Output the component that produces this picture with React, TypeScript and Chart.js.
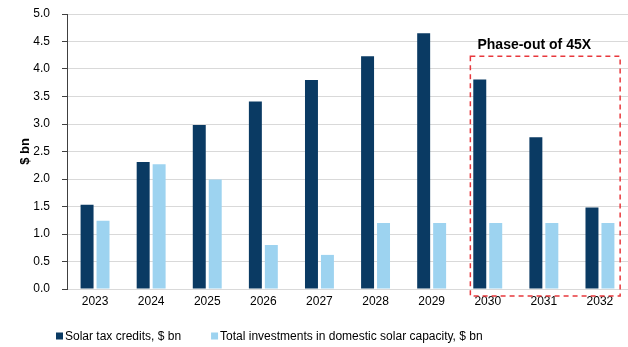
import React, { useEffect, useRef } from "react";
import { Chart, registerables } from "chart.js";

Chart.register(...registerables);

const years = ["2023", "2024", "2025", "2026", "2027", "2028", "2029", "2030", "2031", "2032"];
const solarTaxCredits = [1.53, 2.31, 2.98, 3.41, 3.8, 4.23, 4.65, 3.81, 2.76, 1.48];
const totalInvestments = [1.24, 2.27, 1.99, 0.8, 0.62, 1.2, 1.2, 1.2, 1.2, 1.2];
const seriesLabels = ["Solar tax credits, $ bn", "Total investments in domestic solar capacity, $ bn"];
const seriesColors = ["#0A3A63", "#9DD3F0"];
const annotationLabel = "Phase-out of 45X";
const phaseOutStartIndex = 7;
const phaseOutEndIndex = 9;
const phaseOutTopValue = 4.23;

const FONT = "Arial, 'Liberation Sans', Helvetica, sans-serif";

const phaseOutPlugin = {
  id: "phaseOut",
  afterDatasetsDraw(chart: any) {
    const { ctx, scales } = chart;
    const x = scales.x;
    const y = scales.y;
    const cat = x.getPixelForValue(1) - x.getPixelForValue(0);
    const left = x.getPixelForValue(phaseOutStartIndex) - 0.31 * cat;
    const right = x.getPixelForValue(phaseOutEndIndex) + 0.36 * cat;
    const top = y.getPixelForValue(phaseOutTopValue);
    const bottom = y.getPixelForValue(0) + 7;
    ctx.save();
    ctx.strokeStyle = "#E8383D";
    ctx.lineWidth = 1.5;
    ctx.setLineDash([5, 4]);
    ctx.strokeRect(left, top, right - left, bottom - top);
    ctx.setLineDash([]);
    ctx.fillStyle = "#000";
    ctx.font = `bold 14px ${FONT}`;
    ctx.textAlign = "center";
    ctx.textBaseline = "middle";
    ctx.fillText(annotationLabel, (left + right) / 2 - 11, top - 11);
    ctx.restore();
  },
};

const customLegendPlugin = {
  id: "customLegend",
  afterDraw(chart: any) {
    const { ctx } = chart;
    const yc = 336;
    let xPos = 56;
    ctx.save();
    ctx.font = `12px ${FONT}`;
    ctx.textBaseline = "middle";
    ctx.textAlign = "left";
    chart.data.datasets.forEach((ds: any) => {
      ctx.fillStyle = ds.backgroundColor;
      ctx.fillRect(xPos, yc - 3.5, 7, 7);
      ctx.fillStyle = "#000";
      ctx.fillText(ds.label, xPos + 9, yc + 0.5);
      xPos += 9 + ctx.measureText(ds.label).width + 30;
    });
    ctx.restore();
  },
};

export default function App() {
  const canvasRef = useRef<HTMLCanvasElement | null>(null);

  useEffect(() => {
    if (!canvasRef.current) return;
    const chart = new Chart(canvasRef.current, {
      type: "bar",
      data: {
        labels: years,
        datasets: [
          {
            label: seriesLabels[0],
            data: solarTaxCredits,
            backgroundColor: seriesColors[0],
            categoryPercentage: 0.569,
            barPercentage: 0.8125,
          },
          {
            label: seriesLabels[1],
            data: totalInvestments,
            backgroundColor: seriesColors[1],
            categoryPercentage: 0.569,
            barPercentage: 0.8125,
          },
        ],
      },
      options: {
        animation: false,
        responsive: false,
        maintainAspectRatio: false,
        layout: { padding: { left: 0, right: -2, top: 14, bottom: 33 } },
        plugins: {
          legend: { display: false },
          tooltip: { enabled: false },
        },
        scales: {
          x: {
            grid: { display: false, drawTicks: false },
            border: { display: false },
            ticks: {
              color: "#000",
              font: { family: FONT, size: 12 },
              padding: 5,
              maxRotation: 0,
              autoSkip: false,
            },
            afterFit: (s: any) => {
              s.height = 25;
            },
          },
          y: {
            min: 0,
            max: 5,
            ticks: {
              stepSize: 0.5,
              color: "#000",
              font: { family: FONT, size: 12 },
              padding: 12,
              callback: (v: any) => Number(v).toFixed(1),
            },
            grid: {
              color: "#D9D9D9",
              tickColor: "#404040",
              tickLength: 5,
              lineWidth: 1,
            },
            border: { display: true, color: "#404040", width: 1 },
            title: {
              display: true,
              text: "$ bn",
              color: "#000",
              font: { family: FONT, size: 13, weight: "bold" },
              padding: { top: 18, bottom: 0 },
            },
            afterFit: (s: any) => {
              s.width = 67;
              s.paddingTop = 0;
              s.paddingBottom = 0;
            },
          },
        },
      },
      plugins: [phaseOutPlugin, customLegendPlugin],
    });
    return () => chart.destroy();
  }, []);

  return (
    <div style={{ position: "fixed", left: 0, top: 0, width: 628, height: 347, background: "#fff" }}>
      <canvas ref={canvasRef} width={628} height={347} style={{ width: 628, height: 347, display: "block" }} />
    </div>
  );
}
